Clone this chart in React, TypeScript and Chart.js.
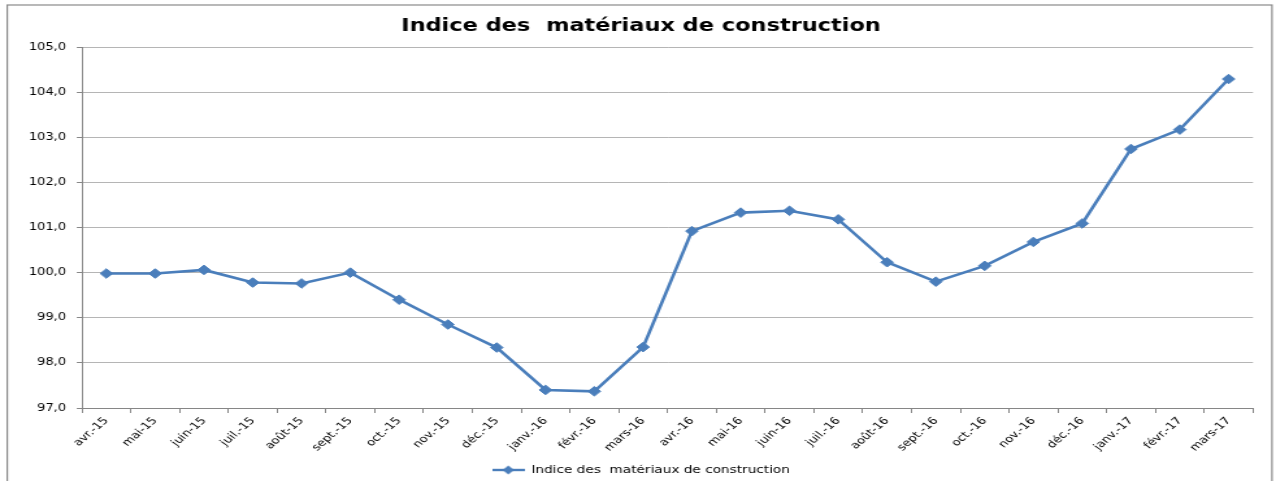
import { useEffect, useRef } from "react";
import { Chart, registerables } from "chart.js";

Chart.register(...registerables);

const chartTitle = "Indice des  matériaux de construction";
const seriesLabel = "Indice des  matériaux de construction";

const months = [
  "avr.-15", "mai-15", "juin-15", "juil.-15", "août-15", "sept.-15",
  "oct.-15", "nov.-15", "déc.-15", "janv.-16", "févr.-16", "mars-16",
  "avr.-16", "mai-16", "juin-16", "juil.-16", "août-16", "sept.-16",
  "oct.-16", "nov.-16", "déc.-16", "janv.-17", "févr.-17", "mars-17",
];

const indexValues = [
  99.98, 99.98, 100.06, 99.78, 99.76, 100.0,
  99.4, 98.85, 98.34, 97.4, 97.37, 98.35,
  100.92, 101.33, 101.37, 101.18, 100.23, 99.8,
  100.15, 100.68, 101.09, 102.74, 103.17, 104.29,
];

const yMin = 97;
const yMax = 105;
const yStep = 1;

const BLUE = "#4a7ebb";
const AXIS = "#868686";
const GRID = "#b5b5b5";
const FONT = "DejaVu Sans";

const PAGE_W = 1276;
const PAGE_H = 481;
const W = 982;
const STRETCH = PAGE_W / W;

export default function App() {
  const ref = useRef<HTMLCanvasElement>(null);

  useEffect(() => {
    const canvas = ref.current;
    if (!canvas) return;

    const marker = document.createElement("canvas");
    marker.width = 25;
    marker.height = 10;
    const m = marker.getContext("2d")!;
    m.strokeStyle = BLUE;
    m.lineWidth = 2.4;
    m.beginPath();
    m.moveTo(0, 5);
    m.lineTo(25, 5);
    m.stroke();
    m.fillStyle = BLUE;
    m.beginPath();
    m.moveTo(12.5, 0.6);
    m.lineTo(16.9, 5);
    m.lineTo(12.5, 9.4);
    m.lineTo(8.1, 5);
    m.closePath();
    m.fill();

    const borderPlugin = {
      id: "outerBorder",
      beforeDraw(chart: any) {
        const ctx = chart.ctx;
        ctx.save();
        ctx.strokeStyle = "#8a8a8a";
        ctx.lineWidth = 1.2;
        ctx.strokeRect(5.6, 5, 978.9 - 5.6, 600);
        ctx.restore();
      },
    };

    const chart = new Chart(canvas, {
      type: "line",
      data: {
        labels: months,
        datasets: [
          {
            label: seriesLabel,
            data: indexValues,
            borderColor: BLUE,
            backgroundColor: BLUE,
            borderWidth: 2.6,
            pointStyle: "rectRot",
            pointRadius: 4.8,
            pointBorderWidth: 1,
            pointBackgroundColor: BLUE,
            pointBorderColor: BLUE,
            tension: 0,
          },
        ],
      },
      options: {
        animation: false,
        responsive: false,
        devicePixelRatio: 1,
        layout: { padding: { left: 4.6, top: 0, right: 0, bottom: -4.25 } },
        plugins: {
          title: {
            display: true,
            text: chartTitle,
            color: "#000",
            font: { family: FONT, size: 17.3, weight: "bold", lineHeight: 1.2 },
            padding: { top: 15.8, bottom: 10.44 },
          },
          legend: {
            position: "bottom",
            labels: {
              usePointStyle: true,
              pointStyleWidth: 25,
              padding: 0,
              color: "#000",
              font: { family: FONT, size: 10.5 },
              generateLabels: () => [
                {
                  text: seriesLabel,
                  pointStyle: marker as any,
                  fillStyle: BLUE,
                  strokeStyle: BLUE,
                  lineWidth: 0,
                  hidden: false,
                  datasetIndex: 0,
                },
              ],
            },
          },
          tooltip: { enabled: false },
        },
        scales: {
          x: {
            offset: true,
            grid: {
              display: true,
              drawOnChartArea: false,
              drawTicks: true,
              tickLength: 5,
              offset: true,
              color: AXIS,
            },
            border: { color: AXIS, width: 1 },
            ticks: {
              autoSkip: false,
              minRotation: 48,
              maxRotation: 48,
              padding: 2,
              color: "#000",
              font: { family: FONT, size: 10 },
            },
            afterFit: (s: any) => {
              s.height = 56.75;
              s.paddingLeft = 0;
              s.paddingRight = 17.7;
            },
          },
          y: {
            min: yMin,
            max: yMax,
            ticks: {
              stepSize: yStep,
              padding: 8.3,
              color: "#000",
              font: { family: FONT, size: 10 },
              callback: (v: any) => Number(v).toFixed(1).replace(".", ","),
            },
            grid: { color: GRID, lineWidth: 1, tickLength: 4, tickColor: AXIS },
            border: { color: AXIS, width: 1 },
            afterFit: (s: any) => {
              s.width = 58.5;
            },
          },
        },
      } as any,
      plugins: [borderPlugin],
    });

    return () => chart.destroy();
  }, []);

  return (
    <div
      style={{
        position: "fixed",
        left: 0,
        top: 0,
        width: PAGE_W,
        height: PAGE_H,
        overflow: "hidden",
        background: "#fff",
      }}
    >
      <div
        style={{
          width: W,
          height: PAGE_H,
          transform: `scaleX(${STRETCH})`,
          transformOrigin: "0 0",
        }}
      >
        <canvas ref={ref} width={W} height={PAGE_H} style={{ display: "block" }} />
      </div>
    </div>
  );
}
